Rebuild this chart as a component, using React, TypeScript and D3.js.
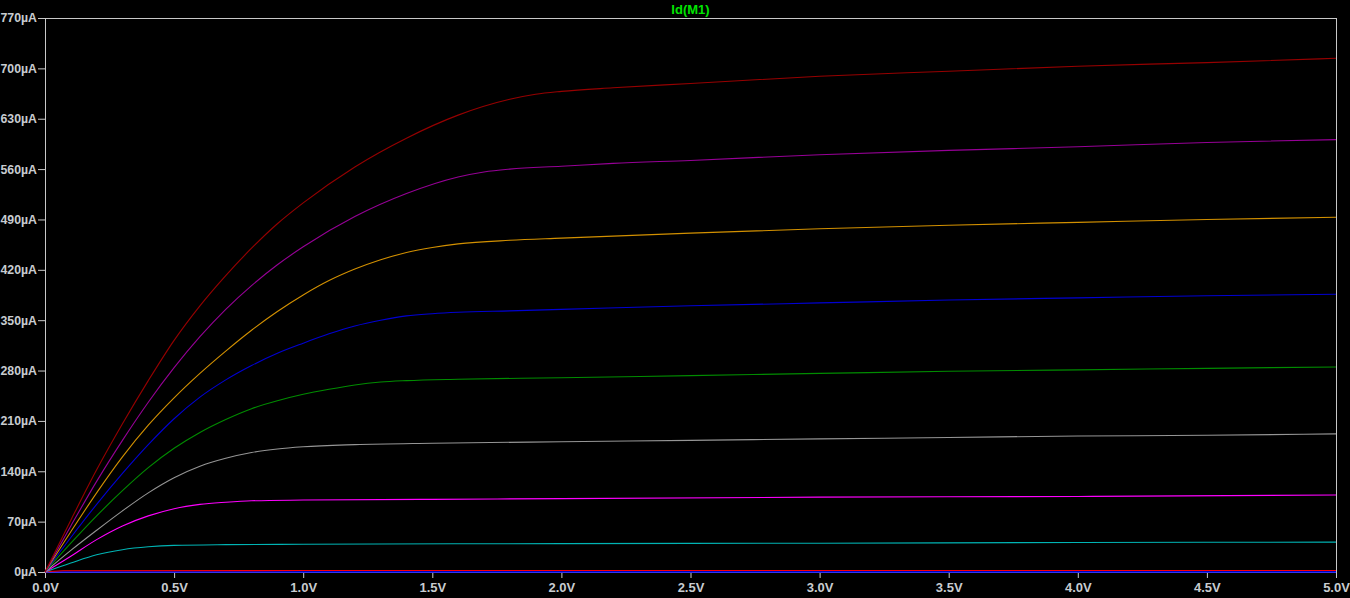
import React, { useEffect, useRef } from "react";
import * as d3 from "d3";

// tick values
const xTicks = [0, 0.5, 1, 1.5, 2, 2.5, 3, 3.5, 4, 4.5, 5];
const yTicks = [0, 70, 140, 210, 280, 350, 420, 490, 560, 630, 700, 770];

// Id(M1) in uA against Vds in V, one array per stepped trace
const idDarkRed: [number, number][] = [
  [0, 0], [0.1, 72], [0.2, 142], [0.3, 206], [0.4, 266], [0.5, 322], [0.6, 370], [0.7, 412],
  [0.8, 450], [0.9, 484], [1.0, 513], [1.2, 563], [1.4, 603], [1.6, 635], [1.8, 657], [1.9, 664],
  [2.0, 668], [2.2, 673], [2.5, 679], [3.0, 689], [3.5, 696], [4.0, 703], [4.5, 708], [5.0, 714],
];
const idPurple: [number, number][] = [
  [0, 0], [0.1, 64], [0.2, 126], [0.3, 183], [0.4, 236], [0.5, 284], [0.6, 327], [0.7, 365],
  [0.8, 398], [0.9, 427], [1.0, 452], [1.2, 494], [1.4, 526], [1.6, 549], [1.7, 556], [1.8, 560],
  [2.0, 564], [2.2, 568], [2.5, 572], [3.0, 580], [3.5, 586], [4.0, 591], [4.5, 597], [5.0, 601],
];
const idOrange: [number, number][] = [
  [0, 0], [0.1, 56], [0.2, 110], [0.3, 160], [0.4, 204], [0.5, 242], [0.6, 276], [0.7, 307],
  [0.8, 336], [0.9, 362], [1.0, 385], [1.1, 405], [1.2, 421], [1.3, 434], [1.4, 444], [1.5, 451],
  [1.6, 456], [1.8, 461], [2.0, 464], [2.5, 471], [3.0, 477], [3.5, 482], [4.0, 486], [4.5, 490], [5.0, 493],
];
const idBlue: [number, number][] = [
  [0, 0], [0.1, 48], [0.2, 94], [0.3, 137], [0.4, 177], [0.5, 213], [0.6, 243], [0.7, 267],
  [0.8, 287], [0.9, 304], [1.0, 318], [1.1, 331], [1.2, 342], [1.3, 350], [1.4, 356], [1.5, 359],
  [1.6, 361], [1.8, 363], [2.0, 365], [2.5, 370], [3.0, 374], [3.5, 378], [4.0, 381], [4.5, 384], [5.0, 386],
];
const idGreen: [number, number][] = [
  [0, 0], [0.1, 40], [0.2, 78], [0.3, 113], [0.4, 145], [0.5, 172], [0.6, 194], [0.7, 212],
  [0.8, 227], [0.9, 238], [1.0, 247], [1.1, 254], [1.2, 260], [1.3, 264], [1.4, 266], [1.6, 268],
  [2.0, 270], [2.5, 273], [3.0, 276], [3.5, 279], [4.0, 281], [4.5, 283], [5.0, 285],
];
const idGray: [number, number][] = [
  [0, 0], [0.1, 30], [0.2, 58], [0.3, 85], [0.4, 110], [0.5, 131], [0.6, 147], [0.7, 158],
  [0.8, 166], [0.9, 171], [1.0, 174], [1.2, 177], [1.5, 179], [2.0, 181], [2.5, 183], [3.0, 185],
  [3.5, 187], [4.0, 189], [4.5, 190], [5.0, 192],
];
const idMagenta: [number, number][] = [
  [0, 0], [0.1, 22], [0.2, 45], [0.3, 64], [0.4, 78], [0.5, 88], [0.6, 94], [0.7, 97],
  [0.8, 99], [1.0, 100], [1.5, 101], [2.0, 102], [3.0, 104], [4.0, 105], [5.0, 107],
];
const idCyan: [number, number][] = [
  [0, 0], [0.1, 12.5], [0.2, 24], [0.3, 31], [0.4, 35], [0.5, 37], [0.7, 38], [1.0, 38.5],
  [2.0, 39.5], [3.0, 40], [4.0, 41], [5.0, 41.5],
];
const idRed: [number, number][] = [[0, 0], [0.03, 1], [0.07, 1.8], [1.0, 2], [5.0, 2]];
const idBottom: [number, number][] = [[0, 0], [5.0, 0]];

const traceData = [idBottom, idRed, idCyan, idMagenta, idGray, idGreen, idBlue, idOrange, idPurple, idDarkRed];
const traceColors = ["#0000ff", "#ff0000", "#00b4b4", "#ff00ff", "#959595", "#008c00", "#0000d2", "#d29000", "#960096", "#960000"];

const W = 1350;
const H = 598;
const frameColor = "#c8c8c8";
const labelColor = "#c8ccd0";
const font = "bold 13px 'Liberation Sans', Arial, sans-serif";
const yFont = "bold 12.3px 'Liberation Sans', Arial, sans-serif";

export default function App() {
  const ref = useRef<SVGSVGElement>(null);

  useEffect(() => {
    const svg = d3.select(ref.current);
    svg.selectAll("*").remove();

    svg.append("rect").attr("width", W).attr("height", H).attr("fill", "#000");

    const x = d3.scaleLinear().domain([0, 5]).range([45, 1336]);
    const y = d3.scaleLinear().domain([0, 770]).range([572, 18]);

    // frame
    svg.append("rect")
      .attr("x", 45.5).attr("y", 18.5)
      .attr("width", 1291).attr("height", 554)
      .attr("fill", "none").attr("stroke", frameColor);

    const yAxis = d3.axisLeft(y)
      .tickValues(yTicks)
      .tickSize(7)
      .tickSizeOuter(0)
      .tickPadding(1)
      .tickFormat((d) => `${d}µA`);
    const gy = svg.append("g").attr("transform", "translate(45,0)").call(yAxis);
    gy.select(".domain").remove();

    const xAxis = d3.axisBottom(x)
      .tickValues(xTicks)
      .tickSize(6)
      .tickSizeOuter(0)
      .tickPadding(5)
      .tickFormat((d) => `${(d as number).toFixed(1)}V`);
    const gx = svg.append("g").attr("transform", "translate(0,572)").call(xAxis);
    gx.select(".domain").remove();

    [gx, gy].forEach((g) => {
      g.selectAll("line").attr("stroke", frameColor);
      g.selectAll("text").attr("fill", labelColor).style("font", font);
    });
    gy.selectAll("text").style("font", yFont);

    // traces
    const line = d3.line<[number, number]>()
      .x((d) => x(d[0]))
      .y((d) => y(d[1]))
      .curve(d3.curveMonotoneX);

    svg.append("g")
      .selectAll("path")
      .data(traceData)
      .join("path")
      .attr("d", (d) => line(d))
      .attr("fill", "none")
      .attr("stroke", (_, i) => traceColors[i])
      .attr("stroke-width", (_, i) => (i === 0 ? 1.5 : 1.1));

    svg.append("text")
      .attr("x", (x(0) + x(5)) / 2)
      .attr("y", 14)
      .attr("text-anchor", "middle")
      .attr("fill", "#00e400")
      .style("font", font)
      .text("Id(M1)");
  }, []);

  return (
    <svg
      ref={ref}
      width={W}
      height={H}
      style={{ position: "absolute", left: 0, top: 0, display: "block" }}
    />
  );
}
